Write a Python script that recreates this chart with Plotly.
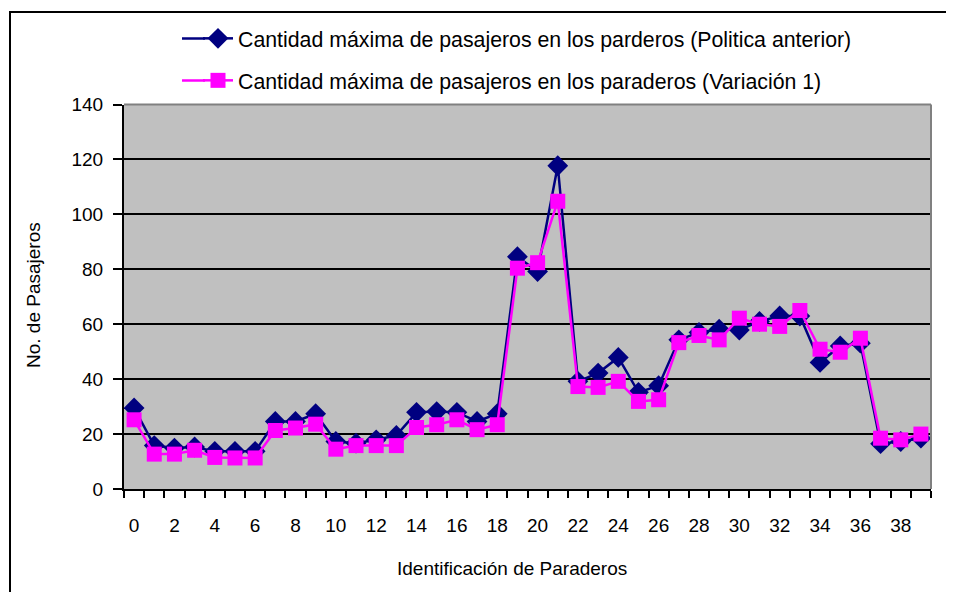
import plotly.graph_objects as go

paraderos = list(range(40))
politica_anterior = [29.5, 15.8, 14.9, 15.3, 13.7, 13.7, 13.7, 24.6, 24.6, 27.4,
                     17.3, 16.7, 17.9, 19.5, 27.9, 28.2, 27.9, 24.6, 27.4, 84.6,
                     79.2, 117.7, 39.2, 42.2, 47.9, 35.2, 37.6, 54.3, 57.0, 58.2,
                     57.9, 61.0, 63.0, 63.0, 46.1, 52.1, 53.1, 16.5, 17.3, 18.5]
variacion_1 = [25.2, 12.7, 12.7, 14.1, 11.5, 11.3, 11.3, 21.3, 22.2, 23.6,
               14.5, 15.8, 15.8, 15.8, 22.4, 23.4, 25.2, 21.6, 23.4, 80.4,
               82.4, 104.8, 37.3, 37.0, 39.2, 31.9, 32.5, 53.3, 55.9, 54.3,
               62.2, 60.0, 59.2, 65.0, 50.9, 49.8, 54.9, 18.5, 17.9, 20.0]
x_tick_vals = list(range(0, 40, 2))
y_tick_vals = [0, 20, 40, 60, 80, 100, 120, 140]

name1 = "Cantidad máxima de pasajeros en los parderos (Politica anterior)"
name2 = "Cantidad máxima de pasajeros en los paraderos (Variación 1)"

FONT = "Liberation Sans, Arial, sans-serif"
NAVY = "#000080"
MAGENTA = "#FF00FF"

# page offset (default body margin of the html page)
OFF = 8
W, H = 954 - OFF, 592 - OFF


def fx(X):
    return (X - OFF) / W


def fy(Y):
    return 1 - (Y - OFF) / H


PL, PR, PT, PB = 124, 931, 104.5, 489

fig = go.Figure()
fig.add_trace(go.Scatter(
    x=paraderos, y=politica_anterior, mode="lines+markers", name=name1,
    line=dict(color=NAVY, width=2.5),
    marker=dict(symbol="diamond", size=16, color=NAVY),
    legend="legend",
))
fig.add_trace(go.Scatter(
    x=paraderos, y=variacion_1, mode="lines+markers", name=name2,
    line=dict(color=MAGENTA, width=2.5),
    marker=dict(symbol="square", size=15, color=MAGENTA),
    legend="legend2",
))

leg_x = fx(198)

fig.update_layout(
    template="none",
    width=W, height=H,
    margin=dict(l=0, r=0, t=0, b=0, pad=0),
    paper_bgcolor="white",
    plot_bgcolor="#C0C0C0",
    font=dict(family=FONT, size=19, color="black"),
    showlegend=True,
    legend=dict(x=leg_x, y=fy(38.5), xanchor="left", yanchor="middle",
                bgcolor="rgba(0,0,0,0)", borderwidth=0, font=dict(size=21.3)),
    legend2=dict(x=leg_x, y=fy(80.5), xanchor="left", yanchor="middle",
                 bgcolor="rgba(0,0,0,0)", borderwidth=0, font=dict(size=21.3)),
    xaxis=dict(
        domain=[fx(PL), fx(PR)],
        range=[-0.5, 39.5], tickmode="array", tickvals=x_tick_vals,
        ticktext=[str(v) for v in x_tick_vals],
        ticks="", showgrid=False, zeroline=False,
        showline=True, linecolor="black", linewidth=2,
        ticklabelstandoff=18, automargin=False,
        minor=dict(ticks="outside", tick0=-0.5, dtick=1, ticklen=7,
                   tickwidth=1.5, tickcolor="black", showgrid=False),
        tickfont=dict(size=19),
    ),
    yaxis=dict(
        domain=[fy(PB), fy(PT)],
        range=[0, 140], tickmode="array", tickvals=y_tick_vals,
        ticks="outside", ticklen=9, tickwidth=1.5, tickcolor="black",
        showgrid=True, gridcolor="black", gridwidth=1.5,
        zeroline=False, showline=True, linecolor="black", linewidth=2,
        ticklabelstandoff=6, automargin=False,
        tickfont=dict(size=19),
    ),
    shapes=[
        # plot-area border (top and right)
        dict(type="line", xref="paper", yref="paper",
             x0=fx(PL), x1=fx(PR), y0=fy(PT), y1=fy(PT),
             line=dict(color="#808080", width=2)),
        dict(type="line", xref="paper", yref="paper",
             x0=fx(PR), x1=fx(PR), y0=fy(PB), y1=fy(PT),
             line=dict(color="#808080", width=2)),
        # chart-area border
        dict(type="rect", xref="paper", yref="paper",
             x0=fx(10), x1=1.02, y0=-0.02, y1=fy(12),
             line=dict(color="black", width=2), fillcolor="rgba(0,0,0,0)"),
        # longer legend keys (left part)
        dict(type="line", xref="paper", yref="paper",
             x0=fx(182), x1=fx(205), y0=fy(38.5), y1=fy(38.5),
             line=dict(color=NAVY, width=2.5)),
        dict(type="line", xref="paper", yref="paper",
             x0=fx(182), x1=fx(205), y0=fy(80.5), y1=fy(80.5),
             line=dict(color=MAGENTA, width=2.5)),
    ],
    annotations=[
        dict(text="No. de Pasajeros", xref="paper", yref="paper",
             x=fx(33), y=fy(295), textangle=-90, showarrow=False,
             xanchor="center", yanchor="middle", font=dict(size=19)),
        dict(text="Identificación de Paraderos", xref="paper", yref="paper",
             x=fx(512), y=fy(568), showarrow=False,
             xanchor="center", yanchor="middle", font=dict(size=19)),
    ],
)

fig.write_html("out.html")
